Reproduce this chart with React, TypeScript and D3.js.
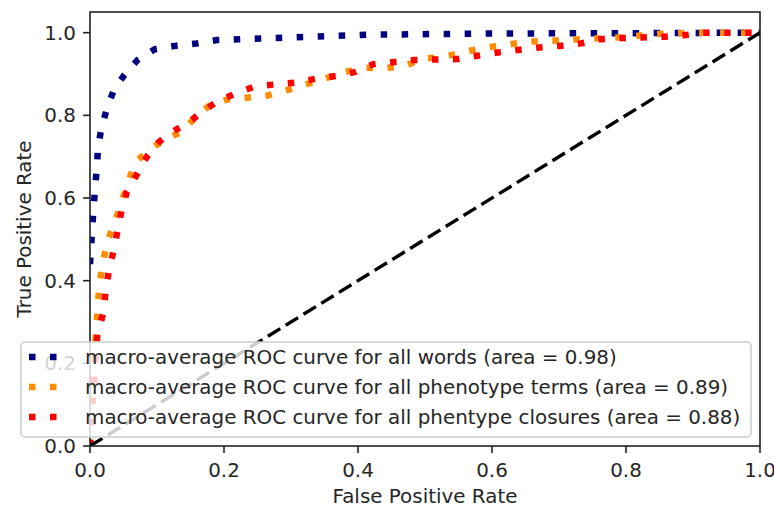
import React from 'react'
import * as d3 from 'd3'

// macro-average ROC points
const wordsFpr = [0, 0.005, 0.0075, 0.01, 0.012, 0.017, 0.026, 0.036, 0.051, 0.071, 0.097, 0.127, 0.159, 0.189, 0.223, 0.254, 0.33, 0.412, 0.6, 0.85, 1]
const wordsTpr = [0.44, 0.57, 0.62, 0.67, 0.72, 0.77, 0.82, 0.863, 0.897, 0.934, 0.96, 0.968, 0.974, 0.982, 0.984, 0.986, 0.99, 0.995, 0.998, 0.999, 1]

const termsFpr = [0, 0.003, 0.006, 0.01, 0.012, 0.015, 0.02, 0.027, 0.038, 0.047, 0.057, 0.067, 0.09, 0.112, 0.137, 0.157, 0.177, 0.204, 0.236, 0.265, 0.294, 0.322, 0.351, 0.378, 0.408, 0.438, 0.469, 0.497, 0.529, 0.559, 0.589, 0.618, 0.649, 0.682, 0.744, 0.806, 0.838, 0.9, 1]
const termsTpr = [0, 0.1, 0.2, 0.3, 0.35, 0.4, 0.45, 0.5, 0.545, 0.59, 0.637, 0.686, 0.718, 0.742, 0.76, 0.795, 0.822, 0.838, 0.843, 0.848, 0.861, 0.875, 0.889, 0.904, 0.915, 0.914, 0.919, 0.937, 0.942, 0.953, 0.964, 0.969, 0.978, 0.98, 0.985, 0.99, 0.996, 1, 1]

const closuresFpr = [0, 0.004, 0.008, 0.011, 0.02, 0.023, 0.028, 0.035, 0.041, 0.047, 0.055, 0.07, 0.085, 0.102, 0.12, 0.145, 0.167, 0.191, 0.218, 0.246, 0.278, 0.307, 0.338, 0.367, 0.396, 0.423, 0.454, 0.484, 0.548, 0.578, 0.609, 0.638, 0.671, 0.701, 0.733, 0.761, 0.794, 0.856, 0.887, 0.918, 1]
const closuresTpr = [0, 0.1, 0.2, 0.272, 0.322, 0.372, 0.423, 0.471, 0.52, 0.568, 0.615, 0.657, 0.7, 0.734, 0.758, 0.78, 0.808, 0.835, 0.853, 0.87, 0.875, 0.879, 0.889, 0.895, 0.905, 0.924, 0.929, 0.934, 0.936, 0.944, 0.952, 0.958, 0.964, 0.968, 0.974, 0.984, 0.987, 0.99, 0.994, 1, 1]

const seriesNames = [
    'macro-average ROC curve for all words (area = 0.98)',
    'macro-average ROC curve for all phenotype terms (area = 0.89)',
    'macro-average ROC curve for all phentype closures (area = 0.88)'
]
const seriesColors = ['navy', 'darkorange', 'red']

const xTicks = [0, 0.2, 0.4, 0.6, 0.8, 1.0]
const yTicks = [0, 0.2, 0.4, 0.6, 0.8, 1.0]

const font = '"DejaVu Sans", sans-serif'
const fontSize = 19.9

function App() {
    const left = 90, right = 760, top = 12, bottom = 446
    const x = d3.scaleLinear().domain([0, 1]).range([left, right])
    const y = d3.scaleLinear().domain([0, 1.05]).range([bottom, top])
    const fmt = d3.format('.1f')

    const line = d3.line<[number, number]>().x(d => x(d[0])).y(d => y(d[1]))
    const zip = (a: number[], b: number[]) => a.map((v, i) => [v, b[i]] as [number, number])
    const curves = [zip(wordsFpr, wordsTpr), zip(termsFpr, termsTpr), zip(closuresFpr, closuresTpr)]

    const dotted = '6.5 14.5'

    // legend sits at lower right, sticking out past the left spine
    const lgRight = right - 9, lgBottom = bottom - 9
    const lgLeft = 21, lgTop = 342
    const rowH = 30

    return (
        <svg width={774} height={508} style={{position: 'absolute', left: 0, top: 0, background: 'white'}}
            fontFamily={font} fontSize={fontSize}>
            <defs>
                <clipPath id="plotArea">
                    <rect x={left} y={top} width={right - left} height={bottom - top}/>
                </clipPath>
            </defs>
            <rect x={0} y={0} width={774} height={508} fill="white"/>

            <g clipPath="url(#plotArea)">
                {curves.map((c, i) => (
                    <path key={i} d={line(c) || ''} fill="none" stroke={seriesColors[i]}
                        strokeWidth={6.5} strokeDasharray={dotted}/>
                ))}
                <path d={line([[0, 0], [1, 1]]) || ''} fill="none" stroke="black"
                    strokeWidth={3.4} strokeDasharray="14.6 6.3"/>
            </g>

            {/* spines */}
            <rect x={left} y={top} width={right - left} height={bottom - top} fill="none" stroke="#222" strokeWidth={1.6}/>

            {/* x axis */}
            {xTicks.map(t => (
                <g key={'x' + t}>
                    <line x1={x(t)} x2={x(t)} y1={bottom} y2={bottom + 7} stroke="#222" strokeWidth={1.6}/>
                    <text x={x(t)} y={bottom + 31} textAnchor="middle" fill="#262626">{fmt(t)}</text>
                </g>
            ))}
            <text x={(left + right) / 2} y={503} textAnchor="middle" fill="#262626">False Positive Rate</text>

            {/* y axis */}
            {yTicks.map(t => (
                <g key={'y' + t}>
                    <line x1={left - 7} x2={left} y1={y(t)} y2={y(t)} stroke="#222" strokeWidth={1.6}/>
                    <text x={left - 14} y={y(t)} dy="0.36em" textAnchor="end" fill="#262626">{fmt(t)}</text>
                </g>
            ))}
            <text transform={`translate(31,${(top + bottom) / 2}) rotate(-90)`} textAnchor="middle" fill="#262626">True Positive Rate</text>

            {/* legend */}
            <rect x={lgLeft} y={lgTop} width={lgRight - lgLeft} height={lgBottom - lgTop} rx={4}
                fill="white" fillOpacity={0.8} stroke="#cccccc" strokeWidth={1.5}/>
            {seriesNames.map((name, i) => {
                const cy = lgTop + 15 + i * rowH
                return (
                    <g key={name}>
                        <line x1={29} x2={69} y1={cy} y2={cy} stroke={seriesColors[i]} strokeWidth={6.5} strokeDasharray={dotted}/>
                        <text x={85} y={cy} dy="0.36em" fill="#262626">{name}</text>
                    </g>
                )
            })}
        </svg>
    )
}

export default App
